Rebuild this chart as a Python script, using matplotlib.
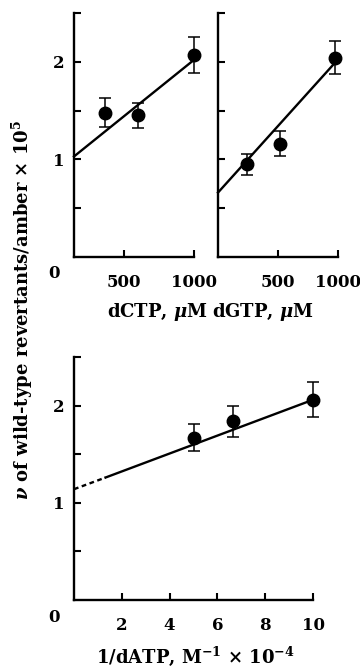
import matplotlib
matplotlib.use("Agg")
import matplotlib.pyplot as plt

plt.rcParams["font.family"] = ["DejaVu Serif"]
plt.rcParams["font.weight"] = "bold"
plt.rcParams["mathtext.fontset"] = "dejavuserif"

# top-left panel: dCTP
dctp_x = [365, 600, 1000]
dctp_y = [1.48, 1.45, 2.07]
dctp_err = [0.15, 0.13, 0.18]
dctp_fit_x = [143, 1000]
dctp_fit_y = [1.03, 2.02]

# top-right panel: dGTP
dgtp_x = [240, 520, 975]
dgtp_y = [0.95, 1.16, 2.04]
dgtp_err = [0.11, 0.13, 0.17]
dgtp_fit_x = [0, 960]
dgtp_fit_y = [0.66, 1.97]

# bottom panel: 1/dATP
datp_x = [5.0, 6.67, 10.0]
datp_y = [1.67, 1.84, 2.06]
datp_err = [0.14, 0.16, 0.18]
datp_fit_x = [1.32, 10.0]
datp_fit_y = [1.26, 2.06]
datp_dash_x = [0.0, 1.32]
datp_dash_y = [1.14, 1.26]

W, H = 360, 671
FS = 13
TFS = 12


def px_axes(fig, left, top, right, bottom):
    return fig.add_axes([left / W, 1 - bottom / H, (right - left) / W, (bottom - top) / H])


def style(ax, xlim, xticks, ylabels=True):
    ax.set_xlim(*xlim)
    ax.set_ylim(0, 2.5)
    for s in ["top", "right"]:
        ax.spines[s].set_visible(False)
    for s in ["left", "bottom"]:
        ax.spines[s].set_linewidth(1.7)
    ax.set_yticks([0.5, 1, 1.5, 2, 2.5])
    ax.set_yticklabels(["", "1", "", "2", ""] if ylabels else [""] * 5)
    ax.set_xticks(xticks)
    ax.tick_params(direction="in", length=5, width=1.5, labelsize=TFS, pad=7)
    ax.tick_params(axis="x", pad=12)
    ax.patch.set_alpha(0)


def draw(ax, x, y, err, fx, fy):
    ax.plot(fx, fy, color="black", lw=1.7, clip_on=False)
    ax.errorbar(x, y, yerr=err, fmt="o", color="black", ms=9, capsize=4,
                elinewidth=1.1, capthick=1.1, clip_on=False, zorder=3)


fig = plt.figure(figsize=(W / 100, H / 100), dpi=100)

ax1 = px_axes(fig, 74, 13, 194, 257)
style(ax1, (143, 1000), [500, 1000])
draw(ax1, dctp_x, dctp_y, dctp_err, dctp_fit_x, dctp_fit_y)

ax2 = px_axes(fig, 218, 13, 338, 257)
style(ax2, (0, 1000), [500, 1000], ylabels=False)
draw(ax2, dgtp_x, dgtp_y, dgtp_err, dgtp_fit_x, dgtp_fit_y)

ax3 = px_axes(fig, 74, 357, 313, 600)
style(ax3, (0, 10), [2, 4, 6, 8, 10])
ax3.plot(datp_dash_x, datp_dash_y, color="black", lw=1.7, ls=(0, (2, 1.5)))
draw(ax3, datp_x, datp_y, datp_err, datp_fit_x, datp_fit_y)

fig.text(54 / W, 1 - 273 / H, "0", fontsize=TFS, ha="center", va="center")
fig.text(54 / W, 1 - 617 / H, "0", fontsize=TFS, ha="center", va="center")

fig.text(157 / W, 1 - 312 / H, r"dCTP, $\mu$M", fontsize=FS, ha="center", va="center")
fig.text(263 / W, 1 - 312 / H, r"dGTP, $\mu$M", fontsize=FS, ha="center", va="center")
fig.text(195 / W, 1 - 656 / H, r"1/dATP, M$^{-1}$ $\times$ 10$^{-4}$", fontsize=FS,
         ha="center", va="center")
fig.text(22 / W, 1 - 310 / H, r"$\nu$ of wild-type revertants/amber $\times$ 10$^5$",
         fontsize=FS, rotation=90, ha="center", va="center")

fig.savefig("out.png", dpi=100)
